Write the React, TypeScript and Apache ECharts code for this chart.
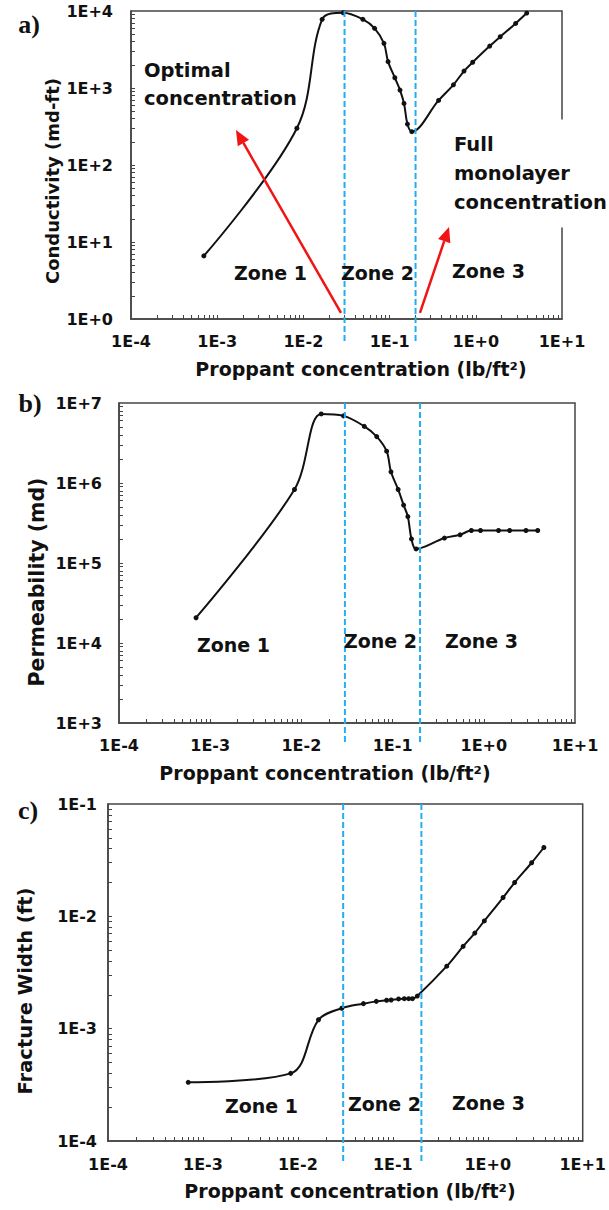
import React, { useEffect, useRef } from "react";
import * as echarts from "echarts";

// Proppant concentration (lb/ft²) shared by the three panels
const concentration = [
  0.0007, 0.0084, 0.0165, 0.029, 0.049, 0.067, 0.086, 0.096, 0.115, 0.132, 0.147,
  0.161, 0.181, 0.37, 0.55, 0.73, 0.92, 1.45, 1.92, 2.9, 3.9,
];
// a) Conductivity (md-ft)
const conductivity = [
  6.6, 300, 7800, 9500, 7800, 5960, 3800, 2200, 1360, 940, 630, 340, 271, 690, 1100,
  1660, 2160, 3500, 4630, 6900, 9400,
];
// b) Permeability (md)
const permeability = [
  2.07e4, 8.3e5, 7.3e6, 6.9e6, 5.1e6, 3.8e6, 2.5e6, 1.38e6, 8.3e5, 5.3e5, 3.8e5, 2.0e5,
  1.5e5, 2.05e5, 2.25e5, 2.55e5, 2.55e5, 2.55e5, 2.55e5, 2.55e5, 2.55e5,
];
// c) Fracture width (ft)
const fractureWidth = [
  3.33e-4, 4.0e-4, 1.2e-3, 1.52e-3, 1.67e-3, 1.75e-3, 1.79e-3, 1.8e-3, 1.84e-3, 1.85e-3,
  1.85e-3, 1.85e-3, 1.95e-3, 3.6e-3, 5.4e-3, 7.1e-3, 9.1e-3, 1.47e-2, 2.0e-2, 3.0e-2, 4.1e-2,
];

// Zone boundaries (lb/ft²): optimal and full-monolayer concentrations
const zoneLimits = [0.03, 0.2];

// Axis ranges
const xRange = [1e-4, 10];
const yRanges = [
  [1, 1e4],
  [1e3, 1e7],
  [1e-4, 1e-1],
];
const panelSeries = [conductivity, permeability, fractureWidth];
const panelLetters = ["a)", "b)", "c)"];
const yTitles = ["Conductivity (md-ft)", "Permeability (md)", "Fracture Width (ft)"];
const xTitle = "Proppant concentration (lb/ft²)";
const zoneNames = ["Zone 1", "Zone 2", "Zone 3"];

const SANS = '"DejaVu Sans", sans-serif';
const INK = "#111";
const FRAME = "#444";
const BLUE = "#22aef0";
const RED = "#f01414";

const grids = [
  { left: 131, top: 11, width: 431, height: 308 },
  { left: 119, top: 403, width: 456, height: 320 },
  { left: 108, top: 804, width: 478, height: 337 },
];

// log tick positions at 2..9 (and inner decades) for the minor marks
function logTicks(lo: number, hi: number) {
  const out: number[] = [];
  const e0 = Math.round(Math.log10(lo));
  const e1 = Math.round(Math.log10(hi));
  for (let e = e0; e < e1; e++) {
    for (let m = 1; m <= 9; m++) {
      if (m === 1 && e === e0) continue;
      out.push(m * Math.pow(10, e));
    }
  }
  return out;
}

const fmtExp = (v: number) => {
  const e = Math.round(Math.log10(v));
  return "1E" + (e < 0 ? "-" : "+") + Math.abs(e);
};

export default function App() {
  const ref = useRef<HTMLDivElement>(null);

  useEffect(() => {
    if (!ref.current) return;
    const chart = echarts.init(ref.current, undefined, { renderer: "svg" });

    const xAxes = grids.map((_, i) => ({
      type: "log",
      logBase: 10,
      gridIndex: i,
      min: xRange[0],
      max: xRange[1],
      axisLine: { show: true, lineStyle: { color: FRAME, width: 1.5 } },
      axisTick: {
        show: true,
        inside: true,
        length: 4,
        customValues: logTicks(xRange[0], xRange[1]),
        lineStyle: { color: FRAME, width: 1 },
      },
      axisLabel: {
        formatter: fmtExp,
        margin: i === 2 ? 15 : 14,
        color: INK,
        fontFamily: SANS,
        fontWeight: "bold",
        fontSize: 16,
      },
      splitLine: { show: false },
    }));

    const yAxes = grids.map((_, i) => ({
      type: "log",
      logBase: 10,
      gridIndex: i,
      min: yRanges[i][0],
      max: yRanges[i][1],
      axisLine: { show: true, lineStyle: { color: FRAME, width: 1.5 } },
      axisTick: {
        show: true,
        inside: true,
        length: 4,
        customValues: logTicks(yRanges[i][0], yRanges[i][1]),
        lineStyle: { color: FRAME, width: 1 },
      },
      axisLabel: {
        formatter: fmtExp,
        margin: [18, 17, 11][i],
        color: INK,
        fontFamily: SANS,
        fontWeight: "bold",
        fontSize: 16,
      },
      splitLine: { show: false },
    }));

    const series = panelSeries.map((vals, i) => ({
      type: "line",
      xAxisIndex: i,
      yAxisIndex: i,
      data: concentration.map((c, k) => [c, vals[k]]),
      smooth: 0.35,
      symbol: "circle",
      symbolSize: 5,
      lineStyle: { color: INK, width: 2 },
      itemStyle: { color: INK },
      z: 5,
    }));

    chart.setOption({
      animation: false,
      backgroundColor: "#fff",
      grid: grids.map((g) => ({
        ...g,
        show: true,
        borderColor: FRAME,
        borderWidth: 1.5,
        backgroundColor: "transparent",
      })),
      xAxis: xAxes,
      yAxis: yAxes,
      series,
    });

    const px = (g: number, x: number, y: number) =>
      chart.convertToPixel({ gridIndex: g } as any, [x, y]) as number[];

    const graphics: any[] = [];

    const text = (
      x: number,
      y: number,
      s: string,
      size: number,
      extra: any = {},
      styleExtra: any = {}
    ) => ({
      type: "text",
      x,
      y,
      z: 50,
      ...extra,
      style: {
        text: s,
        fill: INK,
        fontFamily: SANS,
        fontWeight: "bold",
        fontSize: size,
        align: "left",
        verticalAlign: "middle",
        ...styleExtra,
      },
    });

    // zone boundary lines, running a little past the x axis
    grids.forEach((_, g) => {
      zoneLimits.forEach((b) => {
        const top = px(g, b, yRanges[g][1]);
        const bot = px(g, b, yRanges[g][0]);
        graphics.push({
          type: "line",
          z: 40,
          shape: { x1: top[0], y1: top[1], x2: bot[0], y2: bot[1] + 22 },
          style: { stroke: BLUE, lineWidth: 2, lineDash: [6, 3] },
        });
      });
    });

    // red arrows pointing from the zone boundaries to their captions
    const arrow = (g: number, from: number[], to: number[]) => {
      const p0 = px(g, from[0], from[1]);
      const p1 = px(g, to[0], to[1]);
      const dx = p1[0] - p0[0];
      const dy = p1[1] - p0[1];
      const len = Math.hypot(dx, dy);
      const ux = dx / len;
      const uy = dy / len;
      const headLen = 15;
      const headW = 6.5;
      const bx = p1[0] - ux * headLen;
      const by = p1[1] - uy * headLen;
      graphics.push({
        type: "line",
        z: 45,
        shape: { x1: p0[0], y1: p0[1], x2: bx, y2: by },
        style: { stroke: RED, lineWidth: 2.5 },
      });
      graphics.push({
        type: "polygon",
        z: 45,
        shape: {
          points: [
            [p1[0], p1[1]],
            [bx - uy * headW, by + ux * headW],
            [bx + uy * headW, by - ux * headW],
          ],
        },
        style: { fill: RED },
      });
    };
    arrow(0, [0.0273, 1.2], [0.00165, 285]);
    arrow(0, [0.225, 1.2], [0.489, 15.7]);

    // panel letters
    const letterPos = [
      [29, 24],
      [30, 403],
      [28, 810],
    ];
    panelLetters.forEach((l, i) => {
      graphics.push(
        text(letterPos[i][0], letterPos[i][1], l, 26, {}, {
          fontFamily: '"Liberation Serif", serif',
          align: "center",
        })
      );
    });

    // axis titles
    const xTitlePos = [
      [361, 369],
      [325, 773],
      [350, 1191],
    ];
    xTitlePos.forEach((p) => {
      graphics.push(text(p[0], p[1], xTitle, 19, {}, { align: "center" }));
    });
    const yTitlePos = [
      [52, 181, 18],
      [37, 582, 20.5],
      [25, 991, 19.5],
    ];
    yTitlePos.forEach((p, i) => {
      graphics.push(
        text(p[0], p[1], yTitles[i], p[2], { rotation: Math.PI / 2 }, { align: "center" })
      );
    });

    // zone captions
    const zonePos = [
      [
        [234, 273],
        [341, 273],
        [452, 271],
      ],
      [
        [197, 645],
        [344, 641],
        [445, 641],
      ],
      [
        [225, 1106],
        [348, 1104],
        [452, 1103],
      ],
    ];
    zonePos.forEach((panel) =>
      panel.forEach((p, k) => graphics.push(text(p[0], p[1], zoneNames[k], 19)))
    );

    // concentration captions in panel a
    graphics.push(
      text(144, 56, "Optimal\nconcentration", 19.5, {}, { verticalAlign: "top", lineHeight: 28 })
    );
    graphics.push(
      text(454, 119.5, "Full\nmonolayer\nconcentration", 19.5, {}, {
        verticalAlign: "top",
        lineHeight: 29,
        backgroundColor: "#fff",
        padding: [10, 0, 11, 0],
      })
    );

    chart.setOption({ graphic: graphics });

    return () => chart.dispose();
  }, []);

  return (
    <div
      ref={ref}
      style={{
        position: "absolute",
        left: 0,
        top: 0,
        width: 609,
        height: 1210,
        background: "#fff",
      }}
    />
  );
}
